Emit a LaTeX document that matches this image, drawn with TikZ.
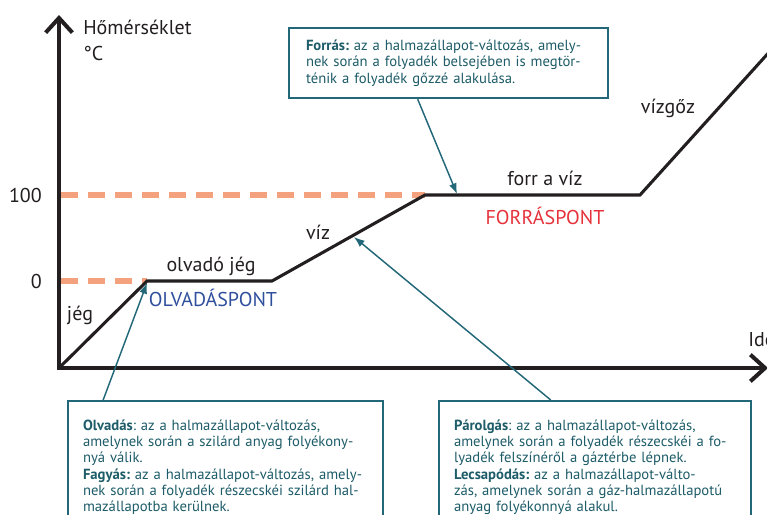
\documentclass[tikz,border=0pt]{standalone}
\usepackage{fontspec}
\setmainfont{PT Sans}
\frenchspacing
\usetikzlibrary{arrows.meta,calc}
\definecolor{inkgray}{HTML}{231F20}
\definecolor{boxteal}{HTML}{236878}
\definecolor{txtteal}{HTML}{1D5C68}
\definecolor{salmon}{HTML}{F4A27E}
\definecolor{ptblue}{HTML}{2F4F9C}
\definecolor{ptred}{HTML}{E5323B}
\tikzset{
  axis/.style={line width=3pt, color=inkgray, -{Straight Barb[length=11pt,width=20pt,line width=3pt]}},
  curve/.style={line width=2.3pt, color=inkgray, line join=miter},
  dashline/.style={line width=4pt, color=salmon, dash pattern=on 12.75pt off 7.5pt},
  lbl/.style={font=\fontsize{15}{18}\selectfont, text=inkgray, inner sep=0pt},
  tbox/.style={draw=boxteal, line width=1.5pt, fill=white, text=txtteal, align=left,
     font=\fontsize{11}{12.2}\selectfont\frenchspacing, anchor=north west, inner ysep=9pt},
  conn/.style={draw=boxteal, line width=1.1pt, -{Latex[length=8pt,width=6pt]}}
}
\begin{document}
\begin{tikzpicture}[x=0.75pt,y=-0.75pt]
\useasboundingbox (0,0) rectangle (767,514);
\clip (0,0) rectangle (767,514);
% key points
\coordinate (O) at (59,368);
\coordinate (ytop) at (59,15);
\coordinate (xend) at (768,368);
\coordinate (p1) at (147,281);
\coordinate (p2) at (272,281);
\coordinate (p3) at (425,195);
\coordinate (p4) at (640,195);
\coordinate (p5) at (800,18);
\coordinate (y100) at (61,195);
\coordinate (y0) at (61,281);
\coordinate (a1) at (147,283);
\coordinate (a2) at (457,194);
\coordinate (a3) at (354,237);
% dashed guides
\draw[dashline] (y100) -- (p3);
\draw[dashline] (y0) -- (p1);
% curve
\draw[curve] (O) -- (p1) -- (p2) -- (p3) -- (p4) -- (p5);
% axes
\draw[axis] ($(O)+(0,2)$) -- (ytop);
\draw[axis] ($(O)+(-2,0)$) -- (xend);
% axis labels
\node[lbl, anchor=west] (ylabel) at (83,27) {Hőmérséklet};
\node[lbl, anchor=west] (unit) at (83,53) {°C};
\node[lbl, anchor=east] (t100) at (42,195) {100};
\node[lbl, anchor=east] (t0) at (42,281) {0};
\node[lbl, anchor=west] (time) at (748,340) {Idő};
% curve labels
\node[lbl] (jeg) at (80,315) {jég};
\node[lbl] (ojeg) at (211,266) {olvadó jég};
\node[lbl, text=ptblue] (opont) at (213,298) {OLVADÁSPONT};
\node[lbl] (viz) at (318,232) {víz};
\node[lbl] (forrviz) at (545,178) {forr a víz};
\node[lbl, text=ptred] (fpont) at (545,216) {FORRÁSPONT};
\node[lbl] (gozl) at (668,108) {vízgőz};
% boxes
\node[tbox, anchor=north west, inner xsep=12.75pt, text width=213.75pt, minimum width=239.25pt, minimum height=52.5pt] (forras) at (288,27)
 {\textbf{Forrás:} az a halmazállapot-változás, amely-\\nek során a folyadék belsejében is megtör-\\ténik a folyadék gőzzé alakulása.};
\node[tbox, inner xsep=11.25pt, inner ysep=14pt, text width=213.75pt, minimum width=236.25pt] (olvadas) at (67,400)
 {\textbf{Olvadás}: az a halmazállapot-változás,\\amelynek során a szilárd anyag folyékony-\\nyá válik.\\\textbf{Fagyás:} az a halmazállapot-változás, amely-\\nek során a folyadék részecskéi szilárd hal-\\mazállapotba kerülnek.};
\node[tbox, inner xsep=11.25pt, inner ysep=14pt, text width=211.5pt, minimum width=234pt] (parolgas) at (438,400)
 {\textbf{Párolgás}: az a halmazállapot-változás,\\amelynek során a folyadék részecskéi a fo-\\lyadék felszínéről a gáztérbe lépnek.\\\textbf{Lecsapódás:} az a halmazállapot-válto-\\zás, amelynek során a gáz-halmazállapotú\\anyag folyékonnyá alakul.};
% connectors
\draw[conn] ($(olvadas.north west)!0.114!(olvadas.north east)$) -- (a1);
\draw[conn] ($(forras.south west)!0.404!(forras.south east)$) -- (a2);
\draw[conn] ($(parolgas.north west)!0.359!(parolgas.north east)$) -- (a3);
\end{tikzpicture}
\end{document}
